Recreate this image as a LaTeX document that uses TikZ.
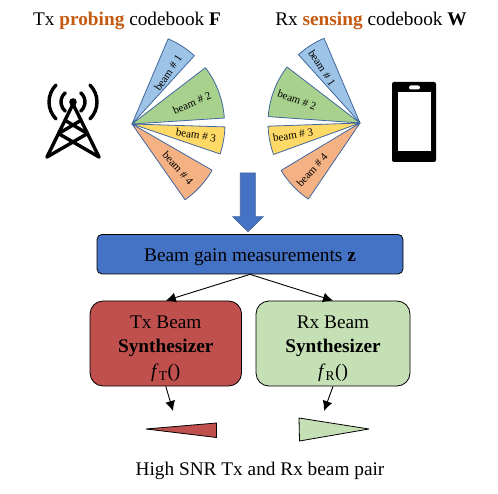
\documentclass[tikz,border=0pt]{standalone}
\usepackage{fontspec}
\setmainfont{Liberation Serif}
\usetikzlibrary{arrows.meta}
\definecolor{bmblue}{HTML}{9DC3E6}
\definecolor{bmgreen}{HTML}{A9D18E}
\definecolor{bmyellow}{HTML}{FFD966}
\definecolor{bmorange}{HTML}{F4B183}
\definecolor{edgeblue}{HTML}{41679F}
\definecolor{boxblue}{HTML}{4472C4}
\definecolor{boxred}{HTML}{C0504D}
\definecolor{boxgreen}{HTML}{C5E0B4}
\definecolor{hilite}{HTML}{C55A11}
\tikzset{
  wedge/.style={draw=edgeblue,line width=0.8pt,line join=round},
  beamlabel/.style={font=\fontsize{11}{12}\selectfont,inner sep=0pt},
  titletext/.style={font=\fontsize{19.3}{22}\selectfont,inner sep=0pt},
  box/.style={draw=black,line width=0.8pt,rounded corners=5pt,inner sep=0pt},
  synth/.style={draw=black,line width=0.8pt,rounded corners=13pt,inner sep=0pt,align=center,font=\fontsize{19.3}{24.5}\selectfont},
  conn/.style={draw=black,line width=0.9pt,-{Latex[length=10pt,width=10pt]}},
  icon/.style={draw=black,line width=3.4pt,line cap=round,line join=round},
}
\newcommand{\beamwedge}[5]{% apex, start angle, end angle, radius, colour
  \filldraw[wedge,fill=#5] (#1) -- ++(#2:#4) arc[start angle=#2,end angle=#3,radius=#4] -- cycle;}
\begin{document}
\begin{tikzpicture}[x=1pt,y=-1pt]
\useasboundingbox (0,0) rectangle (498,494);
% titles
\node[titletext] (txtitle) at (127,21) {Tx \textcolor{hilite}{\textbf{probing}} codebook \textbf{F}};
\node[titletext] (rxtitle) at (371,21) {Rx \textcolor{hilite}{\textbf{sensing}} codebook \textbf{W}};
% wedges (y axis points down, so angles are negated)
\coordinate (txa) at (132,124);
\coordinate (rxa) at (360,123);
\beamwedge{txa}{-67}{-47.6}{92.5}{bmblue}
\beamwedge{txa}{-37.5}{-3.7}{92.5}{bmgreen}
\beamwedge{txa}{1.8}{18.8}{93}{bmyellow}
\beamwedge{txa}{30}{55}{92.5}{bmorange}
\beamwedge{rxa}{-113}{-132}{92}{bmblue}
\beamwedge{rxa}{-142.5}{-176}{92}{bmgreen}
\beamwedge{rxa}{-182}{-200}{92}{bmyellow}
\beamwedge{rxa}{-211}{-235.8}{92}{bmorange}
\node[beamlabel,rotate=56] (t1) at (168,73) {beam \# 1};
\node[beamlabel,rotate=23] (t2) at (192,103) {beam \# 2};
\node[beamlabel,rotate=-9] (t3) at (196,135) {beam \# 3};
\node[beamlabel,rotate=-49] (t4) at (178,168) {beam \# 4};
\node[beamlabel,rotate=-57] (r1) at (322,68) {beam \# 1};
\node[beamlabel,rotate=-20] (r2) at (297,100) {beam \# 2};
\node[beamlabel,rotate=9] (r3) at (293,135) {beam \# 3};
\node[beamlabel,rotate=48] (r4) at (312,170) {beam \# 4};
% tower
\begin{scope}[icon]
  \fill (73,102) circle (3.8);
  \draw (73,104) -- (47,157);
  \draw (73,104) -- (99,157);
  \draw (47,157) -- (87.5,133.6);
  \draw (99,157) -- (58.5,133.6);
  \draw (58.5,133.6) -- (81,120.3);
  \draw (87.5,133.6) -- (65,120.3);
  \draw (73,102) ++(-135:24) arc[start angle=-135,end angle=-225,radius=24];
  \draw (73,102) ++(-45:24) arc[start angle=-45,end angle=45,radius=24];
  \draw (73,102) ++(-130:12) arc[start angle=-130,end angle=-230,radius=12];
  \draw (73,102) ++(-50:12) arc[start angle=-50,end angle=50,radius=12];
\end{scope}
% phone
\fill[black,rounded corners=2pt] (392,82) rectangle (436,162);
\fill[white] (397.5,92.5) rectangle (431,151);
\fill[white,rounded corners=2pt] (409,85.5) rectangle (420,89.5);
% big arrow
\filldraw[draw=edgeblue,fill=boxblue,line width=0.7pt,line join=miter]
  (240.3,173) -- (255.3,173) -- (255.3,216.7) -- (263.3,216.7) -- (248,231.7)
  -- (232.7,216.7) -- (240.3,216.7) -- cycle;
% boxes
\node[box,fill=boxblue,minimum width=306pt,minimum height=39.5pt,font=\fontsize{19.3}{22}\selectfont] (gain) at (250,254.2) {\rule{0pt}{18pt}Beam gain measurements \textbf{z}};
\node[synth,fill=boxred,minimum width=151.5pt,minimum height=85pt] (txs) at (165.8,343.5) {\rule{0pt}{23pt}Tx Beam\\\textbf{Synthesizer}\\\textit{f}\textsubscript{T}()};
\node[synth,fill=boxgreen,minimum width=154pt,minimum height=85pt] (rxs) at (333,343.5) {\rule{0pt}{23pt}Rx Beam\\\textbf{Synthesizer}\\\textit{f}\textsubscript{R}()};
\coordinate (txout) at (173,411);
\coordinate (rxout) at (324,411);
\draw[conn] (gain.south) -- (txs.north);
\draw[conn] (gain.south) -- (rxs.north);
\draw[conn] (txs.south) -- (txout);
\draw[conn] (rxs.south) -- (rxout);
% output beams
\filldraw[draw=black,fill=boxred,line width=0.8pt,line join=round] (146,429) -- (216.5,423) -- (216.5,437.5) -- cycle;
\filldraw[draw=black,fill=boxgreen,line width=0.8pt,line join=round] (369,429) -- (299,418) -- (299.5,441) -- cycle;
\node[titletext] (cap) at (260,471) {High SNR Tx and Rx beam pair};
\end{tikzpicture}
\end{document}
